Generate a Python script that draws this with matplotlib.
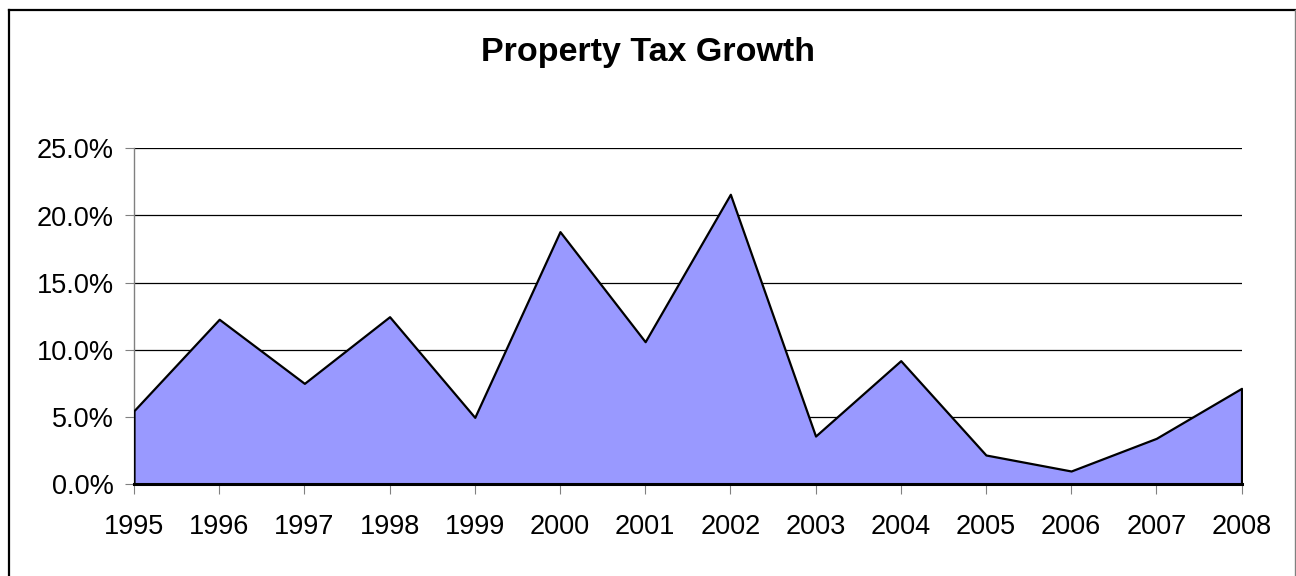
import matplotlib
matplotlib.use("Agg")
import matplotlib.pyplot as plt
from matplotlib.ticker import PercentFormatter, FixedLocator, MultipleLocator
from matplotlib.lines import Line2D

plt.rcParams['font.family'] = ['Liberation Sans', 'DejaVu Sans']

years = ["1995", "1996", "1997", "1998", "1999", "2000", "2001",
         "2002", "2003", "2004", "2005", "2006", "2007", "2008"]
growth = [0.0548, 0.1228, 0.0751, 0.1247, 0.0498, 0.1880, 0.1061,
          0.2158, 0.0359, 0.0920, 0.0218, 0.0099, 0.0342, 0.0714]
title = "Property Tax Growth"

W, H = 1296, 576
fig = plt.figure(figsize=(W / 100, H / 100), dpi=100)
fig.patch.set_facecolor("white")

# chart-area frame (open at the bottom)
fig.add_artist(Line2D([9 / W, 9 / W], [-0.1, 1 - 10 / H], transform=fig.transFigure,
                      color="black", lw=1.6))
fig.add_artist(Line2D([9 / W, 1295 / W], [1 - 10 / H, 1 - 10 / H], transform=fig.transFigure,
                      color="black", lw=1.6))
fig.add_artist(Line2D([1295 / W, 1295 / W], [-0.1, 1 - 10 / H], transform=fig.transFigure,
                      color="#808080", lw=1.0))

left, right, top, bottom = 134, 1241.5, 148.3, 484.3
ax = fig.add_axes([left / W, 1 - bottom / H, (right - left) / W, (bottom - top) / H])

x = list(range(len(years)))
ax.fill_between(x, 0, growth, facecolor="#9999FF", edgecolor="black",
                linewidth=1.6, zorder=3)

ax.set_xlim(0, len(years) - 1)
ax.set_ylim(0, 0.25)
ax.yaxis.set_major_locator(MultipleLocator(0.05))
ax.yaxis.set_major_formatter(PercentFormatter(xmax=1, decimals=1))
ax.xaxis.set_major_locator(FixedLocator(x))
ax.set_xticklabels(years)

ax.grid(axis="y", color="black", linewidth=0.9, zorder=1)
ax.set_axisbelow(True)

for s in ("top", "right"):
    ax.spines[s].set_visible(False)
ax.spines["left"].set_color("#808080")
ax.spines["left"].set_linewidth(1.0)
ax.spines["bottom"].set_color("black")
ax.spines["bottom"].set_linewidth(2.2)
ax.spines["bottom"].set_zorder(4)

ax.tick_params(axis="y", direction="out", length=6.5, width=0.8, color="#808080",
               labelsize=19.5, pad=8)
ax.tick_params(axis="x", direction="out", length=7, width=0.8, color="#808080",
               labelsize=19.5, pad=14.5)

fig.text(0.5, 1 - 61 / H, title, ha="center", va="baseline",
         fontsize=24.5, fontweight="bold")

fig.savefig("out.png", dpi=100, facecolor="white")
